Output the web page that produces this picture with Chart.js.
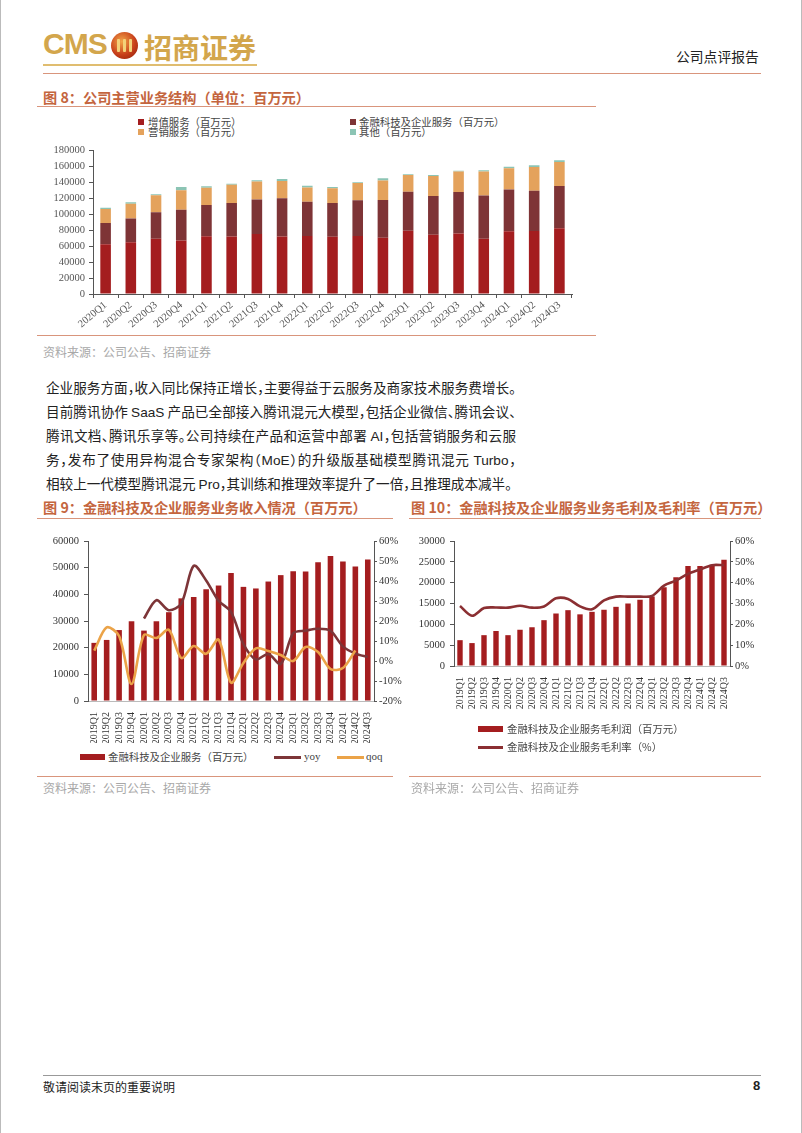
<!DOCTYPE html>
<html>
<head>
<meta charset="utf-8">
<script src="https://cdn.jsdelivr.net/npm/chart.js@4.4.1/dist/chart.umd.min.js"></script>
<style>
body{margin:0;background:#fff;}
#page{position:relative;width:802px;height:1133px;overflow:hidden;font-family:"Noto Sans CJK SC",sans-serif;border-left:1px solid #bbb;border-right:1px solid #bbb;box-sizing:border-box;}
.rule{position:absolute;height:1px;background:#d9957c;}
.ftitle{position:absolute;font-size:14.2px;font-weight:bold;color:#c4653e;white-space:nowrap;line-height:18px;}
.src{position:absolute;font-size:12px;color:#a8a8a8;white-space:nowrap;line-height:14px;}
.para{position:absolute;left:45px;width:470px;font-size:13.6px;line-height:20px;color:#222;text-align:justify;text-align-last:justify;white-space:nowrap;font-feature-settings:"halt";}
.lat{font-family:"Liberation Sans",Arial,sans-serif;}
.leg{position:absolute;font-size:10.4px;color:#444;white-space:nowrap;line-height:12px;}
.sw{position:absolute;}
canvas{position:absolute;}
</style>
</head>
<body>
<div id="page">
  <!-- header -->
  <div style="position:absolute;left:42px;top:27px;font:bold 30px 'Liberation Sans Narrow','Liberation Sans',sans-serif;color:#d3a64c;letter-spacing:-1px;">CMS</div>
  <div style="position:absolute;left:110px;top:32px;width:27px;height:27px;border-radius:50%;background:radial-gradient(circle at 40% 35%,#f3a64a,#c8401a 55%,#8a1a08);"></div>
  <div style="position:absolute;left:116px;top:39px;width:3px;height:13px;background:#f3d27a;border-radius:1px;"></div>
  <div style="position:absolute;left:122px;top:39px;width:3px;height:13px;background:#f3d27a;border-radius:1px;"></div>
  <div style="position:absolute;left:128px;top:39px;width:3px;height:13px;background:#f3d27a;border-radius:1px;"></div>
  <div style="position:absolute;left:143px;top:27px;font-weight:bold;font-size:28px;color:#d3a64c;white-space:nowrap;">招商证券</div>
  <div style="position:absolute;left:42px;top:64px;width:214px;height:2px;background:#e0bd70;"></div>
  <div style="position:absolute;left:675px;top:46px;font-size:13.8px;color:#222;white-space:nowrap;">公司点评报告</div>
  <div class="rule" style="left:42px;top:73px;width:718px;"></div>

  <!-- figure 8 -->
  <div class="ftitle" style="left:42px;top:88px;">图 8：公司主营业务结构（单位：百万元）</div>
  <div class="rule" style="left:36px;top:106px;width:559px;"></div>
  <div class="sw" style="left:137px;top:119px;width:6px;height:6px;background:#a41d1f;"></div>
  <div class="leg" style="left:147px;top:116px;">增值服务（百万元）</div>
  <div class="sw" style="left:349px;top:119px;width:6px;height:6px;background:#7e3436;"></div>
  <div class="leg" style="left:358px;top:116px;">金融科技及企业服务（百万元）</div>
  <div class="sw" style="left:137px;top:129px;width:6px;height:6px;background:#e4a25c;"></div>
  <div class="leg" style="left:147px;top:126px;">营销服务（百万元）</div>
  <div class="sw" style="left:349px;top:129px;width:6px;height:6px;background:#8cc4b4;"></div>
  <div class="leg" style="left:358px;top:126px;">其他（百万元）</div>
  <canvas id="c1" width="560" height="195" style="left:36px;top:140px;"></canvas>
  <div class="rule" style="left:36px;top:335px;width:559px;"></div>
  <div class="src" style="left:42px;top:345px;">资料来源：公司公告、招商证券</div>

  <!-- paragraph -->
  <div class="para" style="top:377px;">企业服务方面，收入同比保持正增长，主要得益于云服务及商家技术服务费增长。</div>
  <div class="para" style="top:401px;">目前腾讯协作 <span class="lat">SaaS</span> 产品已全部接入腾讯混元大模型，包括企业微信、腾讯会议、</div>
  <div class="para" style="top:425px;">腾讯文档、腾讯乐享等。公司持续在产品和运营中部署 <span class="lat">AI</span>，包括营销服务和云服</div>
  <div class="para" style="top:449px;">务，发布了使用异构混合专家架构（<span class="lat">MoE</span>）的升级版基础模型腾讯混元 <span class="lat">Turbo</span>，</div>
  <div class="para" style="top:473px;width:460px;">相较上一代模型腾讯混元 <span class="lat">Pro</span>，其训练和推理效率提升了一倍，且推理成本减半。</div>

  <!-- figure 9 / 10 titles -->
  <div class="ftitle" style="left:42px;top:498px;">图 9：金融科技及企业服务业务收入情况（百万元）</div>
  <div class="ftitle" style="left:410px;top:498px;">图 10：金融科技及企业服务业务毛利及毛利率（百万元）</div>
  <div class="rule" style="left:36px;top:518px;width:356px;"></div>
  <div class="rule" style="left:408px;top:518px;width:352px;"></div>

  <canvas id="c9" width="372" height="214" style="left:36px;top:529px;"></canvas>
  <canvas id="c10" width="365" height="180" style="left:405px;top:529px;"></canvas>

  <div class="sw" style="left:79px;top:754px;width:25px;height:6px;background:#a41d1f;"></div>
  <div class="leg" style="left:107px;top:751px;">金融科技及企业服务（百万元）</div>
  <div class="sw" style="left:273px;top:756px;width:27px;height:3px;background:#7d3538;"></div>
  <div class="leg" style="left:303px;top:750px;font-family:'Liberation Serif',serif;font-size:11px;">yoy</div>
  <div class="sw" style="left:336px;top:756px;width:27px;height:3px;background:#eba348;"></div>
  <div class="leg" style="left:365px;top:750px;font-family:'Liberation Serif',serif;font-size:11px;">qoq</div>

  <div class="sw" style="left:477px;top:726px;width:25px;height:6px;background:#a41d1f;"></div>
  <div class="leg" style="left:506px;top:723px;">金融科技及企业服务毛利润（百万元）</div>
  <div class="sw" style="left:477px;top:746px;width:25px;height:3px;background:#8b2f32;"></div>
  <div class="leg" style="left:506px;top:741px;">金融科技及企业服务毛利率（%）</div>

  <div class="rule" style="left:36px;top:776px;width:356px;"></div>
  <div class="rule" style="left:408px;top:776px;width:352px;"></div>
  <div class="src" style="left:42px;top:781px;">资料来源：公司公告、招商证券</div>
  <div class="src" style="left:410px;top:781px;">资料来源：公司公告、招商证券</div>

  <!-- footer -->
  <div style="position:absolute;left:42px;top:1075px;width:718px;height:1px;background:#999;"></div>
  <div style="position:absolute;left:42px;top:1078px;font-size:12px;color:#222;white-space:nowrap;">敬请阅读末页的重要说明</div>
  <div style="position:absolute;left:752px;top:1078px;font:bold 13px 'Liberation Sans',sans-serif;color:#222;">8</div>
</div>

<script>
// figure 8: main business structure, 2020Q1-2024Q3 (RMB mn)
const quarters8 = ['2020Q1','2020Q2','2020Q3','2020Q4','2021Q1','2021Q2','2021Q3','2021Q4','2022Q1','2022Q2','2022Q3','2022Q4','2023Q1','2023Q2','2023Q3','2023Q4','2024Q1','2024Q2','2024Q3'];
const vas      = [62400, 64700, 69100, 66900, 72400, 72000, 75200, 71900, 72700, 71700, 72700, 70400, 79300, 74200, 75700, 69100, 78600, 78800, 82300];
const fintech  = [26400, 29900, 33300, 38500, 39000, 41900, 43300, 48000, 42800, 42200, 44800, 47200, 48700, 48600, 52000, 54400, 52300, 50400, 53100];
const ads      = [17700, 18600, 21300, 24700, 21800, 22800, 22500, 21500, 18000, 18600, 21400, 24700, 21000, 25000, 25700, 29800, 26500, 29900, 30000];
const others   = [1500, 1700, 1400, 3800, 1800, 1500, 1400, 2800, 2000, 1500, 1100, 2600, 1000, 1200, 1100, 1800, 2100, 2100, 2100];

// figure 9: fintech & business services revenue, 2019Q1-2024Q3
const quarters9 = ['2019Q1','2019Q2','2019Q3','2019Q4'].concat(quarters8);
const fintechRev = [21800, 22900, 26600, 29900, 26400, 29900, 33300, 38500, 39000, 41900, 43300, 48000, 42800, 42200, 44800, 47200, 48700, 48600, 52000, 54400, 52300, 50400, 53100];
const yoy = [null, null, null, null, 21.2, 30.4, 25.4, 28.7, 47.6, 40.3, 30.1, 24.6, 8.5, 0.8, 3.5, -1.5, 13.9, 15.2, 16.1, 15.1, 7.3, 3.7, 2.0];
const qoq = [5.2, 16.8, 12.5, -11.5, 13.0, 11.5, 15.6, 1.5, 7.5, 3.6, 10.7, -10.8, -1.0, 6.3, 5.0, 3.0, 0.0, 7.0, 4.5, -4.0, -3.5, 5.3, null];

// figure 10: fintech & business services gross profit and margin
const grossProfit = [6200, 5500, 7400, 8400, 7400, 8700, 9300, 11000, 12600, 13400, 12400, 13000, 13500, 14200, 15000, 15900, 16700, 18900, 21300, 24000, 24000, 24200, 25500];
const grossMargin = [28.8, 24.1, 27.8, 28.1, 28.0, 28.9, 28.0, 28.6, 32.5, 32.2, 28.6, 27.2, 31.5, 33.3, 33.3, 33.3, 33.6, 38.6, 41.0, 44.2, 46.3, 48.4, 48.4];

Chart.defaults.font.family = "'Liberation Serif', 'Times New Roman', serif";
Chart.defaults.font.size = 10.5;
Chart.defaults.color = '#333';

const axisCol = '#555';
const plain = v => String(v);
const pct = v => v + '%';

new Chart(document.getElementById('c1'), {
    type: 'bar',
    data: {
        labels: quarters8,
        datasets: [
            {label: '增值服务（百万元）', data: vas, backgroundColor: '#a41d1f'},
            {label: '金融科技及企业服务（百万元）', data: fintech, backgroundColor: '#7e3436'},
            {label: '营销服务（百万元）', data: ads, backgroundColor: '#e4a25c'},
            {label: '其他（百万元）', data: others, backgroundColor: '#8cc4b4'}
        ]
    },
    options: {
        responsive: false,
        animation: false,
        datasets: {bar: {barPercentage: 0.42, categoryPercentage: 1}},
        layout: {padding: {top: 8, right: 25, left: 0, bottom: 0}},
        plugins: {legend: {display: false}, tooltip: {enabled: false}},
        scales: {
            x: {
                stacked: true,
                grid: {drawOnChartArea: false, tickLength: 4, color: axisCol},
                border: {color: axisCol},
                ticks: {minRotation: 40, maxRotation: 40, autoSkip: false, font: {size: 10.5}, color: '#555', padding: 1},
                afterFit: s => { s.height = 41; }
            },
            y: {
                stacked: true, min: 0, max: 180000,
                ticks: {stepSize: 20000, color: '#555', padding: 4, callback: plain},
                grid: {drawOnChartArea: false, tickLength: 4, color: axisCol},
                border: {color: axisCol},
                afterFit: s => { s.width = 56; }
            }
        }
    }
});

new Chart(document.getElementById('c9'), {
    data: {
        labels: quarters9,
        datasets: [
            {type: 'line', label: 'qoq', data: qoq, borderColor: '#eba348', borderWidth: 2.6, pointRadius: 0, tension: 0.3, yAxisID: 'y1', order: 0},
            {type: 'line', label: 'yoy', data: yoy, borderColor: '#7d3538', borderWidth: 2.6, pointRadius: 0, tension: 0.3, yAxisID: 'y1', order: 1},
            {type: 'bar', label: '金融科技及企业服务（百万元）', data: fintechRev, backgroundColor: '#a41d1f', barPercentage: 0.45, categoryPercentage: 1, yAxisID: 'y', order: 2}
        ]
    },
    options: {
        responsive: false,
        animation: false,
        layout: {padding: {top: 12, right: 0, left: 0, bottom: 0}},
        plugins: {legend: {display: false}, tooltip: {enabled: false}},
        scales: {
            x: {
                grid: {display: false},
                border: {color: '#bbb'},
                ticks: {minRotation: 90, maxRotation: 90, autoSkip: false, font: {size: 10}, padding: 3},
                afterFit: s => { s.height = 42; }
            },
            y: {
                min: 0, max: 60000,
                ticks: {stepSize: 10000, padding: 5, callback: plain},
                grid: {drawOnChartArea: false, tickLength: 4, color: axisCol},
                border: {color: axisCol},
                afterFit: s => { s.width = 51; }
            },
            y1: {
                position: 'right', min: -20, max: 60,
                ticks: {stepSize: 10, padding: 2, callback: pct},
                grid: {drawOnChartArea: false, tickLength: 3, color: axisCol},
                border: {color: axisCol},
                afterFit: s => { s.width = 35; }
            }
        }
    }
});

new Chart(document.getElementById('c10'), {
    data: {
        labels: quarters9,
        datasets: [
            {type: 'line', label: '金融科技及企业服务毛利率（%）', data: grossMargin, borderColor: '#8b2f32', borderWidth: 2.6, pointRadius: 0, tension: 0.3, yAxisID: 'y1', order: 0},
            {type: 'bar', label: '金融科技及企业服务毛利润（百万元）', data: grossProfit, backgroundColor: '#a41d1f', barPercentage: 0.45, categoryPercentage: 1, yAxisID: 'y', order: 1}
        ]
    },
    options: {
        responsive: false,
        animation: false,
        layout: {padding: {top: 12, right: 0, left: 0, bottom: 0}},
        plugins: {legend: {display: false}, tooltip: {enabled: false}},
        scales: {
            x: {
                grid: {display: false},
                border: {color: '#bbb'},
                ticks: {minRotation: 90, maxRotation: 90, autoSkip: false, font: {size: 10}, padding: 3},
                afterFit: s => { s.height = 43; }
            },
            y: {
                min: 0, max: 30000,
                ticks: {stepSize: 5000, padding: 5, callback: plain},
                grid: {drawOnChartArea: false, tickLength: 4, color: axisCol},
                border: {color: axisCol},
                afterFit: s => { s.width = 48; }
            },
            y1: {
                position: 'right', min: 0, max: 60,
                ticks: {stepSize: 10, padding: 2, callback: pct},
                grid: {drawOnChartArea: false, tickLength: 3, color: axisCol},
                border: {color: axisCol},
                afterFit: s => { s.width = 41; }
            }
        }
    }
});
</script>
</body>
</html>
